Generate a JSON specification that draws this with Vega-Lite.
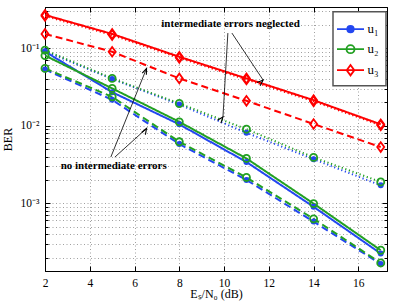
{
  "$schema": "https://vega.github.io/schema/vega-lite/v6.json",
  "width": 342,
  "height": 264,
  "autosize": {"type": "none"},
  "padding": {"left": 45, "top": 7, "right": 18, "bottom": 34},
  "background": "white",
  "config": {
    "font": "Liberation Serif",
    "view": {"stroke": "black", "strokeWidth": 1},
    "axis": {
      "domainColor": "black", "domainWidth": 1, "tickColor": "black", "tickWidth": 1,
      "labelColor": "black", "titleColor": "black",
      "labelFont": "Liberation Serif", "titleFont": "Liberation Serif",
      "labelFontSize": 11.5, "titleFontSize": 12, "titleFontWeight": "normal",
      "gridColor": "#a0a0a0", "gridDash": [1, 2.5], "gridOpacity": 1, "gridWidth": 1
    }
  },
  "datasets": {
    "ber": [
      {"user": "u1", "cond": "simulated", "snr": 2, "ber": 0.090},
      {"user": "u1", "cond": "simulated", "snr": 5, "ber": 0.027},
      {"user": "u1", "cond": "simulated", "snr": 8, "ber": 0.0104},
      {"user": "u1", "cond": "simulated", "snr": 11, "ber": 0.0034},
      {"user": "u1", "cond": "simulated", "snr": 14, "ber": 0.00090},
      {"user": "u1", "cond": "simulated", "snr": 17, "ber": 0.000225},
      {"user": "u1", "cond": "no intermediate errors", "snr": 2, "ber": 0.053},
      {"user": "u1", "cond": "no intermediate errors", "snr": 5, "ber": 0.0215},
      {"user": "u1", "cond": "no intermediate errors", "snr": 8, "ber": 0.0058},
      {"user": "u1", "cond": "no intermediate errors", "snr": 11, "ber": 0.0020},
      {"user": "u1", "cond": "no intermediate errors", "snr": 14, "ber": 0.00058},
      {"user": "u1", "cond": "no intermediate errors", "snr": 17, "ber": 0.000165},
      {"user": "u1", "cond": "intermediate errors neglected", "snr": 2, "ber": 0.091},
      {"user": "u1", "cond": "intermediate errors neglected", "snr": 5, "ber": 0.040},
      {"user": "u1", "cond": "intermediate errors neglected", "snr": 8, "ber": 0.0187},
      {"user": "u1", "cond": "intermediate errors neglected", "snr": 11, "ber": 0.0081},
      {"user": "u1", "cond": "intermediate errors neglected", "snr": 14, "ber": 0.0037},
      {"user": "u1", "cond": "intermediate errors neglected", "snr": 17, "ber": 0.0017},
      {"user": "u2", "cond": "simulated", "snr": 2, "ber": 0.080},
      {"user": "u2", "cond": "simulated", "snr": 5, "ber": 0.0302},
      {"user": "u2", "cond": "simulated", "snr": 8, "ber": 0.0112},
      {"user": "u2", "cond": "simulated", "snr": 11, "ber": 0.00378},
      {"user": "u2", "cond": "simulated", "snr": 14, "ber": 0.00099},
      {"user": "u2", "cond": "simulated", "snr": 17, "ber": 0.000248},
      {"user": "u2", "cond": "no intermediate errors", "snr": 2, "ber": 0.0547},
      {"user": "u2", "cond": "no intermediate errors", "snr": 5, "ber": 0.0235},
      {"user": "u2", "cond": "no intermediate errors", "snr": 8, "ber": 0.0062},
      {"user": "u2", "cond": "no intermediate errors", "snr": 11, "ber": 0.00215},
      {"user": "u2", "cond": "no intermediate errors", "snr": 14, "ber": 0.00063},
      {"user": "u2", "cond": "no intermediate errors", "snr": 17, "ber": 0.00017},
      {"user": "u2", "cond": "intermediate errors neglected", "snr": 2, "ber": 0.094},
      {"user": "u2", "cond": "intermediate errors neglected", "snr": 5, "ber": 0.0406},
      {"user": "u2", "cond": "intermediate errors neglected", "snr": 8, "ber": 0.0193},
      {"user": "u2", "cond": "intermediate errors neglected", "snr": 11, "ber": 0.0090},
      {"user": "u2", "cond": "intermediate errors neglected", "snr": 14, "ber": 0.0039},
      {"user": "u2", "cond": "intermediate errors neglected", "snr": 17, "ber": 0.00188},
      {"user": "u3", "cond": "simulated", "snr": 2, "ber": 0.267},
      {"user": "u3", "cond": "simulated", "snr": 5, "ber": 0.152},
      {"user": "u3", "cond": "simulated", "snr": 8, "ber": 0.0772},
      {"user": "u3", "cond": "simulated", "snr": 11, "ber": 0.0406},
      {"user": "u3", "cond": "simulated", "snr": 14, "ber": 0.0213},
      {"user": "u3", "cond": "simulated", "snr": 17, "ber": 0.0104},
      {"user": "u3", "cond": "no intermediate errors", "snr": 2, "ber": 0.152},
      {"user": "u3", "cond": "no intermediate errors", "snr": 5, "ber": 0.0896},
      {"user": "u3", "cond": "no intermediate errors", "snr": 8, "ber": 0.0406},
      {"user": "u3", "cond": "no intermediate errors", "snr": 11, "ber": 0.0209},
      {"user": "u3", "cond": "no intermediate errors", "snr": 14, "ber": 0.0105},
      {"user": "u3", "cond": "no intermediate errors", "snr": 17, "ber": 0.0053},
      {"user": "u3", "cond": "intermediate errors neglected", "snr": 2, "ber": 0.259},
      {"user": "u3", "cond": "intermediate errors neglected", "snr": 5, "ber": 0.147},
      {"user": "u3", "cond": "intermediate errors neglected", "snr": 8, "ber": 0.0748},
      {"user": "u3", "cond": "intermediate errors neglected", "snr": 11, "ber": 0.0393},
      {"user": "u3", "cond": "intermediate errors neglected", "snr": 14, "ber": 0.0206},
      {"user": "u3", "cond": "intermediate errors neglected", "snr": 17, "ber": 0.0101}
    ],
    "arrows": [
      {"id": "a", "snr": 4.94, "ber": 0.00393, "snr2": 6.537, "ber2": 0.0547},
      {"id": "b", "snr": 5.12, "ber": 0.00393, "snr2": 6.537, "ber2": 0.0092},
      {"id": "c", "snr": 10.17, "ber": 0.156, "snr2": 9.95, "ber2": 0.0129},
      {"id": "d", "snr": 10.35, "ber": 0.156, "snr2": 11.745, "ber2": 0.0387}
    ],
    "notes": [
      {"snr": 10.29, "ber": 0.202, "text": "intermediate errors neglected"},
      {"snr": 5.07, "ber": 0.00303, "text": "no intermediate errors"}
    ]
  },
  "layer": [
    {
      "data": {"name": "ber"},
      "mark": {"type": "line", "clip": true},
      "encoding": {
        "x": {
          "field": "snr", "type": "quantitative",
          "scale": {"domain": [2, 17.28], "nice": false, "zero": false},
          "axis": {"values": [2, 4, 6, 8, 10, 12, 14, 16], "title": "Eₛ/N₀ (dB)", "tickSize": -5, "labelPadding": 11, "titlePadding": 0, "grid": true, "labelFlush": false}
        },
        "y": {
          "field": "ber", "type": "quantitative",
          "scale": {"type": "log", "domain": [0.000134, 0.338], "nice": false},
          "axis": {
            "values": [0.0002, 0.0003, 0.0004, 0.0005, 0.0006, 0.0007, 0.0008, 0.0009, 0.001, 0.002, 0.003, 0.004, 0.005, 0.006, 0.007, 0.008, 0.009, 0.01, 0.02, 0.03, 0.04, 0.05, 0.06, 0.07, 0.08, 0.09, 0.1, 0.2, 0.3],
            "labelExpr": "datum.value == 0.1 ? '10⁻¹' : datum.value == 0.01 ? '10⁻²' : datum.value == 0.001 ? '10⁻³' : ''",
            "tickSize": {"condition": {"test": "datum.value == 0.1 || datum.value == 0.01 || datum.value == 0.001", "value": -5}, "value": -3},
            "labelPadding": 11, "title": "BER", "titlePadding": 6, "grid": true, "labelFlush": false
          }
        },
        "color": {
          "field": "user", "type": "nominal",
          "scale": {"domain": ["u1", "u2", "u3"], "range": ["#2347f0", "#22a022", "#ff0000"]},
          "legend": {
            "orient": "none", "legendX": 288, "legendY": 4.7, "title": null, "padding": 6.5, "rowPadding": 2,
            "symbolSize": 400, "labelOffset": 6, "strokeColor": "#555555", "fillColor": "white",
            "labelFont": "Liberation Serif", "labelFontSize": 13, "labelColor": "black",
            "labelExpr": "datum.label == 'u1' ? 'u₁' : datum.label == 'u2' ? 'u₂' : 'u₃'",
            "encode": {
              "legend": {"update": {"strokeWidth": {"value": 1.5}}},
              "symbols": {"update": {
                "shape": {"signal": "datum.value == 'u1' ? 'M-1.35,0L1.35,0M-0.32,0A0.32,0.32 0 1,1 0.32,0A0.32,0.32 0 1,1 -0.32,0Z' : datum.value == 'u2' ? 'M-1.35,0L1.35,0M-0.4,0A0.4,0.4 0 1,1 0.4,0A0.4,0.4 0 1,1 -0.4,0Z' : 'M-1.35,0L1.35,0M0,-0.52L0.38,0L0,0.52L-0.38,0Z'"},
                "fill": {"signal": "datum.value == 'u1' ? '#2347f0' : 'transparent'"},
                "strokeWidth": {"value": 1.8},
                "size": {"value": 400}
              }}
            }
          }
        },
        "strokeDash": {
          "field": "cond", "type": "nominal",
          "scale": {"domain": ["simulated", "no intermediate errors", "intermediate errors neglected"], "range": [[1, 0], [7, 4], [1.2, 2.6]]},
          "legend": null
        },
        "strokeWidth": {
          "field": "cond", "type": "nominal",
          "scale": {"domain": ["simulated", "no intermediate errors", "intermediate errors neglected"], "range": [2, 2, 1.2]},
          "legend": null
        }
      }
    },
    {
      "data": {"name": "ber"},
      "transform": [{"filter": "datum.user == 'u1'"}],
      "mark": {"type": "point", "shape": "circle", "filled": true, "color": "#2347f0", "size": 36, "opacity": 1},
      "encoding": {
        "x": {"field": "snr", "type": "quantitative", "axis": null},
        "y": {"field": "ber", "type": "quantitative", "axis": null}
      }
    },
    {
      "data": {"name": "ber"},
      "transform": [{"filter": "datum.user == 'u2'"}],
      "mark": {"type": "point", "shape": "circle", "filled": false, "color": "#22a022", "size": 50, "strokeWidth": 1.8, "opacity": 1},
      "encoding": {
        "x": {"field": "snr", "type": "quantitative", "axis": null},
        "y": {"field": "ber", "type": "quantitative", "axis": null}
      }
    },
    {
      "data": {"name": "ber"},
      "transform": [{"filter": "datum.user == 'u3'"}],
      "mark": {"type": "point", "shape": "M0,-1.3L0.95,0L0,1.3L-0.95,0Z", "filled": false, "color": "#ff0000", "size": 55, "strokeWidth": 1.8, "opacity": 1},
      "encoding": {
        "x": {"field": "snr", "type": "quantitative", "axis": null},
        "y": {"field": "ber", "type": "quantitative", "axis": null}
      }
    },
    {
      "data": {"name": "arrows"},
      "mark": {"type": "rule", "color": "black", "strokeWidth": 0.8},
      "encoding": {
        "x": {"field": "snr", "type": "quantitative", "axis": null},
        "y": {"field": "ber", "type": "quantitative", "axis": null},
        "x2": {"field": "snr2"},
        "y2": {"field": "ber2"}
      }
    },
    {
      "data": {"name": "arrows"},
      "mark": {"type": "point", "shape": "M-0.55,1.5L0,0L0.55,1.5", "filled": false, "color": "black", "size": 64, "strokeWidth": 1.1, "opacity": 1},
      "encoding": {
        "x": {"field": "snr2", "type": "quantitative", "axis": null},
        "y": {"field": "ber2", "type": "quantitative", "axis": null},
        "angle": {"field": "id", "type": "nominal", "scale": {"domain": ["a", "b", "c", "d"], "range": [21.9, 47.8, 183.4, 146.6]}, "legend": null}
      }
    },
    {
      "data": {"name": "notes"},
      "mark": {"type": "text", "font": "Liberation Serif", "fontSize": 11, "fontWeight": "bold", "color": "black", "align": "center", "baseline": "middle"},
      "encoding": {
        "x": {"field": "snr", "type": "quantitative", "axis": null},
        "y": {"field": "ber", "type": "quantitative", "axis": null},
        "text": {"field": "text"}
      }
    },
    {
      "data": {"name": "ber"},
      "mark": {"type": "point", "opacity": 0},
      "encoding": {
        "x": {"field": "snr", "type": "quantitative", "axis": {"orient": "top", "values": [2, 4, 6, 8, 10, 12, 14, 16], "labels": false, "tickSize": -5, "grid": false, "title": null}},
        "y": {"field": "ber", "type": "quantitative", "axis": {"orient": "right",
          "values": [0.0002, 0.0003, 0.0004, 0.0005, 0.0006, 0.0007, 0.0008, 0.0009, 0.001, 0.002, 0.003, 0.004, 0.005, 0.006, 0.007, 0.008, 0.009, 0.01, 0.02, 0.03, 0.04, 0.05, 0.06, 0.07, 0.08, 0.09, 0.1, 0.2, 0.3],
          "tickSize": {"condition": {"test": "datum.value == 0.1 || datum.value == 0.01 || datum.value == 0.001", "value": -5}, "value": -3},
          "labels": false, "grid": false, "title": null}}
      }
    }
  ],
  "resolve": {"axis": {"x": "independent", "y": "independent"}}
}
